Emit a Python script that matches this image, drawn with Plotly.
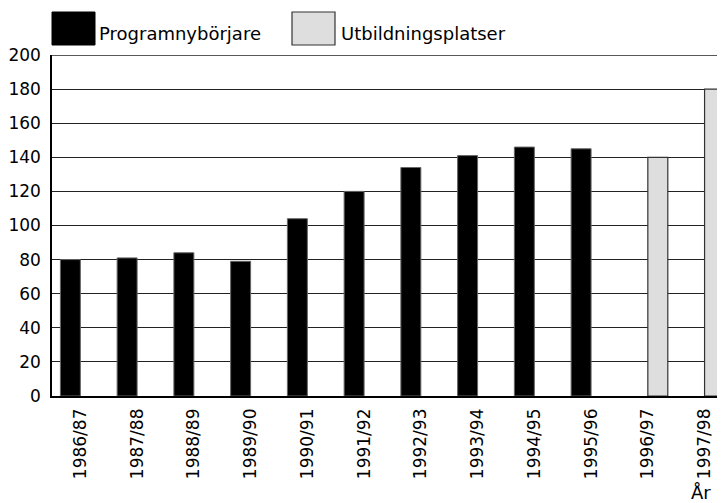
import plotly.graph_objects as go

years = ["1986/87", "1987/88", "1988/89", "1989/90", "1990/91", "1991/92",
         "1992/93", "1993/94", "1994/95", "1995/96", "1996/97", "1997/98"]
programnyborjare = [80, 81, 84, 79, 104, 120, 134, 141, 146, 145, None, None]
utbildningsplatser = [None, None, None, None, None, None, None, None, None, None, 140, 180]
y_ticks = [0, 20, 40, 60, 80, 100, 120, 140, 160, 180, 200]

FONT = "DejaVu Sans"
OFF = 8  # default page body margin
W, H = 725 - OFF, 503 - OFF
# plot area in page pixels: x 52..725, y 55..396
L, R, T, B = 52 - OFF, 0, 55 - OFF, 503 - 396
pw = W - L - R
ph = H - T - B

def px(x):
    return (x - OFF - L) / pw

def py(y):
    return (H - B - (y - OFF)) / ph

fig = go.Figure()
fig.add_trace(go.Bar(x=years, y=programnyborjare, name="Programnybörjare",
                     marker=dict(color="#000000", line=dict(color="#666666", width=1))))
fig.add_trace(go.Bar(x=years, y=utbildningsplatser, name="Utbildningsplatser",
                     marker=dict(color="#dedede", line=dict(color="#333333", width=1.2))))

fig.update_layout(
    width=W, height=H,
    margin=dict(l=L, r=R, t=T, b=B, autoexpand=False),
    paper_bgcolor="white", plot_bgcolor="white",
    barmode="group", bargap=0.296, bargroupgap=0,
    showlegend=False,
    font=dict(family=FONT, size=17, color="black"),
    xaxis=dict(type="category", range=[-0.5, 11.36], tickangle=-90,
               showgrid=False, showline=True, linecolor="black", linewidth=1.5,
               ticks="", tickfont=dict(size=17), ticklabelstandoff=4),
    yaxis=dict(range=[0, 200], tickvals=y_ticks, showgrid=True,
               gridcolor="#222222", gridwidth=1, showline=True,
               linecolor="black", linewidth=1.5, ticks="", zeroline=False,
               ticklabelstandoff=6, tickfont=dict(size=17)),
)

# top gridline at 200
fig.add_shape(type="line", xref="paper", yref="y", x0=0, x1=1, y0=200, y1=200,
              line=dict(color="#222222", width=1.5), layer="below")

# legend drawn manually with large swatches
fig.add_shape(type="rect", xref="paper", yref="paper",
              x0=px(52), x1=px(95), y0=py(45), y1=py(12),
              fillcolor="#000000", line=dict(color="#000000", width=1))
fig.add_annotation(text="Programnybörjare", xref="paper", yref="paper",
                   x=px(97), y=py(33), xanchor="left", yanchor="middle",
                   showarrow=False, font=dict(family=FONT, size=18, color="black"))
fig.add_shape(type="rect", xref="paper", yref="paper",
              x0=px(292), x1=px(335), y0=py(45), y1=py(12),
              fillcolor="#dedede", line=dict(color="#333333", width=1.2))
fig.add_annotation(text="Utbildningsplatser", xref="paper", yref="paper",
                   x=px(339), y=py(33), xanchor="left", yanchor="middle",
                   showarrow=False, font=dict(family=FONT, size=18, color="black"))
fig.add_annotation(text="År", xref="paper", yref="paper",
                   x=px(701), y=py(492), xanchor="center", yanchor="middle",
                   showarrow=False, font=dict(family=FONT, size=18, color="black"))

fig.write_html("out.html")
